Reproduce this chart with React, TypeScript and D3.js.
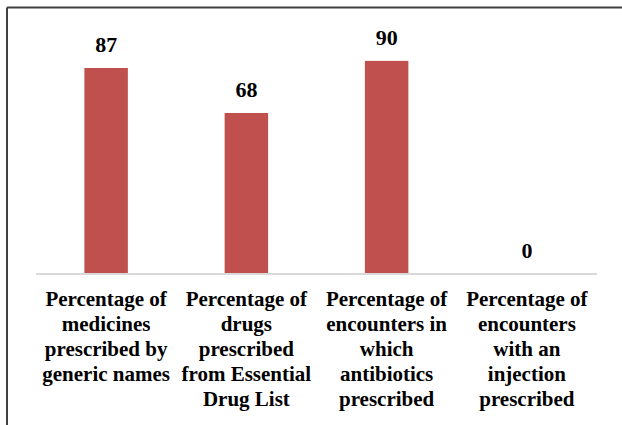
import React from "react";
import * as d3 from "d3";

const categories: string[][] = [
  ["Percentage of", "medicines", "prescribed by", "generic names"],
  ["Percentage of", "drugs", "prescribed", "from Essential", "Drug List"],
  ["Percentage of", "encounters in", "which", "antibiotics", "prescribed"],
  ["Percentage of", "encounters", "with an", "injection", "prescribed"],
];
const values: number[] = [87, 68, 90, 0];

const W = 622;
const H = 425;
const FONT = "Liberation Serif";

export default function App() {
  const x = d3
    .scaleBand<number>()
    .domain(values.map((_, i) => i))
    .range([36, 597])
    .paddingInner(0.69)
    .paddingOuter(0.345);
  const y = d3.scaleLinear().domain([0, 100]).range([274, 37.2]);
  const band = d3.scaleBand<number>().domain(values.map((_, i) => i)).range([36, 597]);

  return (
    <svg
      width={W}
      height={H}
      style={{ position: "absolute", left: 0, top: 0, background: "#fff" }}
    >
      <rect x={0} y={0} width={W} height={H} fill="#fff" />
      <line x1={7} y1={7.5} x2={W} y2={7.5} stroke="#404040" strokeWidth={2} />
      <line x1={7} y1={7.5} x2={7} y2={H} stroke="#404040" strokeWidth={2} />
      {values.map((v, i) => (
        <rect
          key={"b" + i}
          x={x(i)!}
          y={y(v)}
          width={x.bandwidth()}
          height={y(0) - y(v)}
          fill="#C0504D"
        />
      ))}
      <line x1={36} x2={597} y1={y(0)} y2={y(0)} stroke="#D9D9D9" strokeWidth={2} />
      {values.map((v, i) => (
        <text
          key={"v" + i}
          x={x(i)! + x.bandwidth() / 2}
          y={y(v) - 16}
          textAnchor="middle"
          fontFamily={FONT}
          fontWeight="bold"
          fontSize={22}
          fill="#000"
        >
          {v}
        </text>
      ))}
      {categories.map((lines, i) => (
        <text
          key={"c" + i}
          textAnchor="middle"
          fontFamily={FONT}
          fontWeight="bold"
          fontSize={21}
          fill="#000"
        >
          {lines.map((l, j) => (
            <tspan key={j} x={band(i)! + band.bandwidth() / 2} y={306 + j * 25}>
              {l}
            </tspan>
          ))}
        </text>
      ))}
    </svg>
  );
}
